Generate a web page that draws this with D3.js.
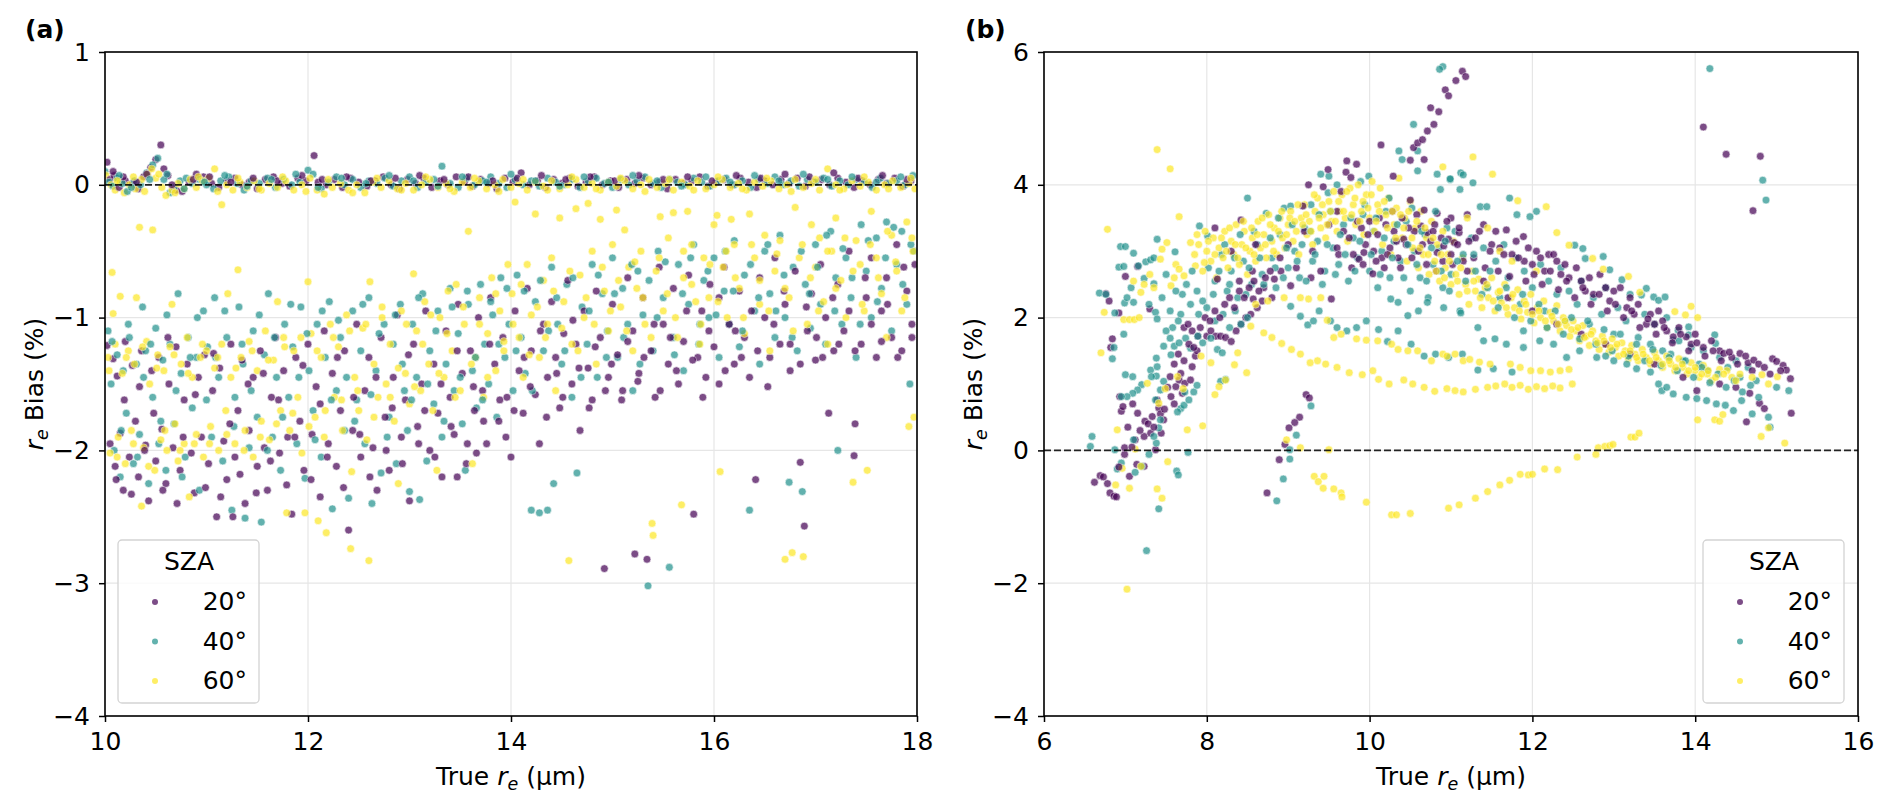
<!DOCTYPE html>
<html lang="en">
<head>
<meta charset="UTF-8">
<script src="https://d3js.org/d3.v7.min.js"></script>
<style>
  body { margin: 0; background: #fff; overflow: hidden; }
  svg { display: block; font-family: "DejaVu Sans", sans-serif; }
</style>
</head>
<body>
<svg width="1892" height="809"></svg>
<script>
  // legend categories
  const szaLabels = ['20°', '40°', '60°'];
  const szaColors = ['#440154', '#21918c', '#fde725'];

  // panel (a) tick values
  const aXTicks = [10, 12, 14, 16, 18];
  const aYTicks = [-4, -3, -2, -1, 0, 1];
  // panel (b) tick values
  const bXTicks = [6, 8, 10, 12, 14, 16];
  const bYTicks = [-4, -2, 0, 2, 4, 6];

  // ---- panel (a): [true re, bias %] ----
  // points sitting on the zero line
  const aStrip20 = [[10.02,0.17],[10.05,0.04],[10.09,0.07],[10.14,-0.02],[10.2,0.03],[10.27,0.01],[10.33,-0.03],[10.38,0.06],[10.45,0.13],[10.5,0.19],[10.55,0.3],[10.62,0.07],[10.7,-0.04],[10.76,-0.05],[10.83,0.02],[10.9,0.08],[10.97,0.06],[11.05,0.01],[11.12,-0.02],[11.2,0.03],[11.28,0.05],[11.35,0.0],[11.42,0.02],[11.5,-0.03],[11.58,0.04],[11.66,0.06],[11.74,0.01],[11.82,-0.01],[11.9,0.05],[11.98,0.03],[12.06,0.22],[12.1,0.02],[12.18,0.0],[12.26,0.04],[12.34,-0.02],[12.42,0.05],[12.5,0.02],[12.58,-0.01],[12.66,0.03],[12.74,0.06],[12.82,0.0],[12.9,-0.03],[12.98,0.04],[13.06,0.01],[13.14,0.05],[13.22,-0.02],[13.3,0.03],[13.38,0.0],[13.46,0.06],[13.54,0.02],[13.62,-0.01],[13.7,0.04],[13.78,0.01],[13.86,-0.03],[13.94,0.05],[14.02,0.02],[14.1,0.09],[14.18,0.0],[14.26,0.03],[14.34,-0.02],[14.42,0.04],[14.5,0.01],[14.58,0.05],[14.66,-0.01],[14.74,0.02],[14.82,0.06],[14.9,0.0],[14.98,0.03],[15.06,-0.02],[15.14,0.04],[15.22,0.01],[15.3,0.05],[15.38,0.0],[15.46,0.02],[15.54,-0.03],[15.62,0.04],[15.7,0.01],[15.78,0.03],[15.86,0.06],[15.94,-0.01],[16.02,0.02],[16.1,0.04],[16.18,0.0],[16.26,0.05],[16.34,0.02],[16.42,-0.02],[16.5,0.03],[16.58,0.0],[16.66,0.04],[16.74,0.01],[16.82,0.05],[16.9,-0.01],[16.98,0.02],[17.06,0.04],[17.14,0.0],[17.22,0.05],[17.3,0.02],[17.38,-0.02],[17.46,0.03],[17.54,0.0],[17.62,0.04],[17.7,0.01],[17.78,0.05],[17.86,-0.01],[17.94,0.03]];
  const aStrip40 = [[10.0,0.1],[10.04,0.02],[10.08,-0.01],[10.12,0.05],[10.17,0.01],[10.22,-0.05],[10.29,0.03],[10.35,0.0],[10.41,0.09],[10.47,0.15],[10.52,0.2],[10.58,0.04],[10.64,-0.06],[10.68,-0.02],[10.74,0.03],[10.8,0.05],[10.86,0.01],[10.93,0.04],[11.0,0.0],[11.07,-0.03],[11.14,0.03],[11.22,0.06],[11.3,0.01],[11.37,-0.04],[11.44,0.03],[11.52,0.01],[11.6,0.05],[11.68,-0.02],[11.76,0.04],[11.84,0.0],[11.92,0.02],[12.0,0.11],[12.05,0.08],[12.13,-0.03],[12.2,0.02],[12.28,0.06],[12.36,0.0],[12.44,0.04],[12.52,-0.02],[12.6,0.03],[12.68,0.01],[12.76,0.05],[12.84,-0.01],[12.92,0.03],[13.0,0.06],[13.08,-0.02],[13.16,0.02],[13.24,0.04],[13.32,0.14],[13.4,0.01],[13.48,-0.02],[13.56,0.05],[13.64,0.0],[13.72,0.03],[13.8,0.06],[13.88,0.01],[13.96,-0.02],[14.04,0.04],[14.12,0.0],[14.2,0.03],[14.28,-0.01],[14.36,0.05],[14.44,0.02],[14.52,0.0],[14.6,0.04],[14.68,-0.02],[14.76,0.03],[14.84,0.05],[14.92,0.01],[15.0,-0.02],[15.08,0.04],[15.16,0.0],[15.24,0.03],[15.32,0.06],[15.4,0.01],[15.48,-0.02],[15.56,0.04],[15.64,0.02],[15.72,0.0],[15.8,0.05],[15.88,0.02],[15.96,-0.01],[16.04,0.03],[16.12,0.05],[16.2,0.0],[16.28,0.03],[16.36,-0.02],[16.44,0.04],[16.52,0.01],[16.6,0.06],[16.68,0.0],[16.76,0.03],[16.84,-0.01],[16.92,0.04],[17.0,0.02],[17.08,0.05],[17.16,-0.01],[17.24,0.03],[17.32,0.0],[17.4,0.04],[17.48,0.02],[17.56,-0.02],[17.64,0.05],[17.72,0.01],[17.8,0.03],[17.88,0.0],[17.96,0.07]];
  const aStrip60 = [[10.01,0.07],[10.06,0.0],[10.1,-0.04],[10.15,0.02],[10.19,-0.06],[10.24,0.0],[10.3,-0.03],[10.36,0.04],[10.42,0.08],[10.46,0.12],[10.5,0.05],[10.56,-0.02],[10.6,-0.08],[10.66,-0.04],[10.72,0.01],[10.78,-0.03],[10.84,0.04],[10.9,-0.02],[10.96,0.03],[11.02,0.05],[11.08,0.12],[11.15,-0.15],[11.2,0.0],[11.26,-0.04],[11.33,0.02],[11.4,-0.02],[11.47,0.03],[11.54,-0.04],[11.62,0.01],[11.7,-0.02],[11.78,0.03],[11.86,-0.04],[11.94,0.0],[12.02,0.05],[12.09,-0.04],[12.16,-0.07],[12.24,-0.02],[12.32,0.01],[12.4,-0.04],[12.48,0.0],[12.56,-0.06],[12.64,0.02],[12.72,-0.02],[12.8,0.03],[12.88,-0.03],[12.96,0.01],[13.04,-0.04],[13.12,0.0],[13.2,0.04],[13.28,-0.02],[13.36,0.01],[13.44,-0.05],[13.52,0.02],[13.6,-0.02],[13.68,0.03],[13.76,-0.03],[13.84,0.0],[13.92,0.04],[14.0,-0.02],[14.08,0.01],[14.16,-0.04],[14.24,0.02],[14.32,-0.01],[14.4,0.03],[14.48,-0.03],[14.56,0.0],[14.64,0.04],[14.72,-0.02],[14.8,0.01],[14.88,-0.04],[14.96,0.02],[15.04,-0.01],[15.12,0.03],[15.2,-0.03],[15.28,0.0],[15.36,0.04],[15.44,-0.02],[15.52,0.01],[15.6,-0.04],[15.68,0.02],[15.76,-0.01],[15.84,0.03],[15.92,-0.03],[16.0,0.0],[16.08,0.04],[16.16,-0.02],[16.24,0.01],[16.32,-0.04],[16.4,0.02],[16.48,-0.01],[16.56,0.03],[16.64,-0.03],[16.72,0.0],[16.8,0.04],[16.88,-0.02],[16.96,0.01],[17.04,-0.04],[17.12,0.12],[17.2,0.0],[17.28,-0.03],[17.36,0.03],[17.44,-0.01],[17.52,0.02],[17.6,-0.04],[17.68,0.0],[17.76,0.03],[17.84,-0.02],[17.92,0.01],[17.98,-0.03]];
  const aStripMore20 = [[10.08,0.1],[10.18,0.06],[10.31,0.02],[10.41,0.08],[10.58,0.12],[10.66,0.0],[10.87,0.04],[11.03,0.06],[11.24,0.02],[11.46,0.05],[11.7,0.03],[11.94,0.07],[12.14,0.04],[12.38,0.06],[12.62,0.03],[12.86,0.05],[13.1,0.07],[13.34,0.04],[13.58,0.06],[13.82,0.03],[14.06,0.05],[14.3,0.07],[14.54,0.04],[14.78,0.06],[15.02,0.03],[15.26,0.07],[15.5,0.04],[15.74,0.06],[15.98,0.03],[16.22,0.07],[16.46,0.05],[16.7,0.08],[16.94,0.06],[17.18,0.09],[17.42,0.05],[17.66,0.07],[17.9,0.04]];
  const aStripMore40 = [[10.14,0.07],[10.26,-0.02],[10.44,0.04],[10.61,0.08],[10.78,-0.03],[10.98,0.02],[11.18,0.07],[11.4,-0.01],[11.64,0.04],[11.88,0.08],[12.1,-0.02],[12.33,0.05],[12.57,0.01],[12.8,0.07],[13.04,0.03],[13.28,-0.01],[13.52,0.06],[13.76,0.02],[14.0,0.08],[14.24,0.03],[14.48,-0.01],[14.72,0.06],[14.96,0.02],[15.2,0.07],[15.44,0.03],[15.68,-0.01],[15.92,0.06],[16.16,0.02],[16.4,0.07],[16.64,0.03],[16.88,0.08],[17.12,0.04],[17.36,0.06],[17.6,0.02],[17.84,0.06]];
  const aStripMore60 = [[10.12,0.03],[10.28,0.06],[10.39,-0.05],[10.53,0.08],[10.69,-0.06],[10.92,0.06],[11.11,-0.05],[11.31,0.05],[11.52,-0.03],[11.75,0.06],[11.98,-0.05],[12.2,0.04],[12.44,-0.06],[12.68,0.05],[12.92,-0.04],[13.16,0.06],[13.4,-0.03],[13.64,0.05],[13.88,-0.05],[14.12,0.04],[14.36,-0.04],[14.6,0.06],[14.84,-0.03],[15.08,0.05],[15.32,-0.05],[15.56,0.04],[15.8,-0.04],[16.04,0.06],[16.28,-0.03],[16.52,0.05],[16.76,-0.05],[17.0,0.04],[17.24,-0.04],[17.48,0.06],[17.72,-0.03],[17.94,0.05]];

  // points in the negative bias cloud
  const aCloud20 = [[10.02,-1.21],[10.05,-1.95],[10.08,-1.31],[10.1,-2.12],[10.12,-1.44],[10.15,-1.87],[10.18,-2.3],[10.2,-1.18],[10.24,-2.05],[10.27,-1.36],[10.3,-1.78],[10.33,-2.2],[10.36,-1.25],[10.4,-1.96],[10.43,-2.38],[10.46,-1.4],[10.5,-2.08],[10.53,-1.3],[10.56,-1.84],[10.6,-2.25],[10.63,-1.5],[10.67,-1.98],[10.7,-1.22],[10.74,-2.15],[10.78,-1.62],[10.81,-1.35],[10.85,-2.02],[10.88,-2.32],[10.92,-1.45],[10.95,-1.9],[10.98,-1.28],
    [11.02,-2.1],[11.06,-1.55],[11.1,-2.5],[11.13,-1.38],[11.17,-1.93],[11.2,-2.22],[11.24,-1.2],[11.26,-2.5],[11.28,-2.05],[11.31,-1.7],[11.35,-1.32],[11.38,-2.4],[11.42,-1.85],[11.46,-1.45],[11.5,-2.12],[11.53,-1.25],[11.57,-1.98],[11.6,-2.3],[11.64,-1.6],[11.68,-1.15],[11.72,-2.02],[11.76,-1.4],[11.8,-1.9],[11.84,-2.48],[11.88,-1.3],[11.92,-1.78],[11.96,-2.15],
    [12.0,-1.2],[12.04,-1.88],[12.08,-1.52],[12.12,-2.35],[12.16,-1.1],[12.2,-1.95],[12.24,-1.42],[12.28,-2.12],[12.32,-1.7],[12.36,-1.25],[12.4,-2.6],[12.44,-1.85],[12.48,-1.05],[12.52,-2.05],[12.56,-1.55],[12.6,-1.3],[12.64,-1.98],[12.68,-2.3],[12.72,-1.15],[12.76,-1.75],[12.8,-2.15],[12.84,-1.45],[12.88,-0.98],[12.92,-1.9],[12.96,-1.62],
    [13.0,-2.38],[13.04,-1.2],[13.08,-1.82],[13.12,-1.5],[13.16,-0.95],[13.2,-2.0],[13.24,-1.35],[13.28,-1.72],[13.32,-2.2],[13.36,-1.1],[13.4,-1.6],[13.44,-1.88],[13.47,-2.2],[13.48,-0.9],[13.52,-1.42],[13.56,-2.1],[13.6,-1.25],[13.64,-1.7],[13.66,-2.02],[13.68,-1.0],[13.72,-1.55],[13.76,-1.95],[13.8,-0.85],[13.84,-1.35],[13.88,-1.78],[13.92,-1.15],[13.96,-1.6],
    [14.0,-2.05],[14.04,-0.95],[14.08,-1.4],[14.12,-1.72],[14.16,-0.78],[14.2,-1.25],[14.24,-1.58],[14.28,-1.95],[14.32,-1.05],[14.36,-1.45],[14.4,-0.88],[14.44,-1.3],[14.48,-1.68],[14.52,-1.12],[14.56,-0.72],[14.6,-1.5],[14.64,-1.2],[14.68,-1.85],[14.72,-0.95],[14.76,-1.38],[14.8,-1.62],[14.84,-0.8],[14.88,-1.15],[14.92,-2.89],[14.96,-1.45],
    [15.0,-0.9],[15.05,-1.28],[15.1,-1.55],[15.15,-0.7],[15.2,-1.1],[15.22,-2.78],[15.26,-1.42],[15.3,-0.85],[15.34,-2.82],[15.38,-1.25],[15.42,-1.6],[15.46,-0.62],[15.5,-1.05],[15.55,-1.35],[15.6,-0.78],[15.65,-1.5],[15.7,-1.18],[15.75,-0.68],[15.8,-2.48],[15.84,-1.3],[15.88,-0.95],[15.92,-1.45],[15.96,-0.75],
    [16.0,-1.22],[16.05,-1.5],[16.1,-0.62],[16.15,-1.05],[16.2,-1.35],[16.25,-0.8],[16.3,-1.15],[16.35,-1.45],[16.41,-2.22],[16.45,-0.7],[16.5,-1.0],[16.55,-1.3],[16.6,-0.55],[16.65,-1.2],[16.7,-0.9],[16.75,-1.4],[16.8,-0.65],[16.85,-2.09],[16.89,-2.57],[16.92,-1.1],[16.96,-0.82],
    [17.0,-1.32],[17.05,-0.6],[17.1,-1.0],[17.13,-1.72],[17.18,-1.25],[17.22,-0.75],[17.28,-1.1],[17.33,-0.5],[17.38,-2.04],[17.39,-1.8],[17.45,-1.2],[17.5,-0.85],[17.55,-0.55],[17.6,-1.3],[17.65,-0.95],[17.7,-0.7],[17.75,-1.15],[17.8,-0.45],[17.85,-1.25],[17.9,-0.8],[17.95,-1.05],[17.98,-0.6]];
  const aCloud40 = [[10.03,-1.1],[10.06,-1.5],[10.09,-2.0],[10.12,-1.28],[10.15,-2.2],[10.18,-1.4],[10.21,-1.72],[10.24,-1.15],[10.28,-2.1],[10.31,-1.35],[10.34,-1.88],[10.37,-0.92],[10.4,-1.25],[10.43,-2.25],[10.47,-1.6],[10.5,-1.08],[10.53,-1.95],[10.57,-1.32],[10.6,-2.15],[10.64,-1.2],[10.68,-1.8],[10.72,-0.82],[10.75,-1.42],[10.79,-2.05],[10.82,-1.15],[10.86,-1.68],[10.9,-1.3],[10.93,-2.3],[10.97,-0.95],
    [11.01,-1.22],[11.05,-1.9],[11.08,-0.85],[11.12,-1.45],[11.16,-2.08],[11.2,-1.15],[11.25,-2.45],[11.28,-1.6],[11.32,-0.92],[11.36,-1.35],[11.38,-2.51],[11.42,-1.98],[11.46,-1.1],[11.5,-1.75],[11.54,-2.54],[11.57,-1.28],[11.61,-0.82],[11.65,-1.9],[11.69,-1.45],[11.73,-2.15],[11.77,-1.05],[11.81,-1.6],[11.85,-1.22],[11.89,-1.95],[11.93,-0.92],[11.97,-2.21],
    [12.01,-1.4],[12.05,-1.7],[12.09,-1.05],[12.13,-2.05],[12.17,-1.3],[12.21,-0.88],[12.24,-2.44],[12.28,-1.55],[12.32,-1.15],[12.36,-1.85],[12.4,-2.36],[12.44,-0.95],[12.48,-1.62],[12.52,-1.25],[12.56,-1.95],[12.6,-0.85],[12.63,-2.4],[12.67,-1.4],[12.72,-2.17],[12.75,-1.05],[12.8,-1.75],[12.84,-1.2],[12.87,-2.1],[12.91,-0.9],[12.95,-1.55],[12.98,-1.85],
    [13.0,-2.31],[13.03,-1.05],[13.07,-1.45],[13.1,-2.37],[13.13,-0.82],[13.17,-2.08],[13.2,-1.25],[13.24,-1.65],[13.28,-0.95],[13.32,-1.9],[13.36,-1.35],[13.4,-0.78],[13.44,-1.55],[13.48,-1.12],[13.52,-1.8],[13.55,-2.15],[13.58,-0.9],[13.62,-1.4],[13.66,-1.68],[13.7,-0.75],[13.74,-1.2],[13.78,-1.5],[13.82,-0.98],[13.86,-1.75],[13.9,-0.7],[13.94,-1.3],[13.98,-1.05],
    [14.02,-1.55],[14.06,-0.68],[14.1,-1.15],[14.14,-1.42],[14.2,-2.45],[14.24,-0.88],[14.28,-2.47],[14.32,-1.25],[14.36,-2.45],[14.4,-0.62],[14.42,-2.25],[14.46,-1.05],[14.5,-1.35],[14.55,-0.75],[14.6,-1.6],[14.65,-2.17],[14.7,-0.92],[14.75,-1.2],[14.8,-0.6],[14.85,-1.45],[14.9,-0.82],[14.95,-1.1],
    [15.0,-0.55],[15.05,-1.3],[15.1,-0.78],[15.15,-1.05],[15.2,-1.55],[15.25,-0.65],[15.3,-0.98],[15.35,-3.02],[15.4,-1.25],[15.45,-0.5],[15.5,-0.85],[15.56,-2.88],[15.6,-1.15],[15.65,-0.6],[15.7,-1.4],[15.75,-0.9],[15.8,-0.45],[15.85,-1.2],[15.9,-0.72],[15.95,-1.0],
    [16.0,-0.55],[16.05,-1.3],[16.1,-0.8],[16.15,-1.05],[16.2,-0.42],[16.25,-1.22],[16.3,-0.68],[16.35,-2.45],[16.4,-0.95],[16.45,-1.35],[16.5,-0.5],[16.55,-0.82],[16.6,-1.15],[16.65,-0.38],[16.7,-1.0],[16.74,-2.24],[16.78,-0.62],[16.82,-1.25],[16.87,-2.31],[16.9,-0.75],[16.95,-1.08],
    [17.0,-0.45],[17.05,-0.9],[17.1,-1.2],[17.15,-0.35],[17.2,-0.7],[17.22,-2.0],[17.26,-1.05],[17.3,-0.55],[17.35,-0.85],[17.4,-1.3],[17.45,-0.3],[17.5,-0.65],[17.55,-1.0],[17.6,-0.4],[17.65,-0.78],[17.7,-0.28],[17.75,-1.1],[17.8,-0.6],[17.85,-0.35],[17.9,-0.9],[17.93,-1.5],[17.97,-0.5]];
  const aCloud60 = [[10.03,-1.3],[10.05,-2.02],[10.07,-0.66],[10.08,-0.97],[10.1,-1.2],[10.13,-1.9],[10.15,-0.84],[10.17,-1.42],[10.2,-2.1],[10.23,-1.25],[10.26,-1.85],[10.29,-1.35],[10.31,-0.85],[10.34,-0.32],[10.36,-2.42],[10.38,-1.98],[10.41,-1.18],[10.44,-1.5],[10.47,-0.34],[10.49,-2.15],[10.52,-1.28],[10.55,-1.92],[10.58,-1.4],[10.61,-2.0],[10.64,-1.22],[10.66,-0.9],[10.69,-1.8],[10.72,-2.08],[10.75,-1.35],[10.78,-1.95],[10.81,-1.15],[10.83,-2.35],[10.86,-1.45],[10.9,-1.88],[10.94,-1.3],[10.97,-2.05],
    [11.0,-1.25],[11.04,-1.82],[11.08,-1.38],[11.12,-2.0],[11.15,-1.2],[11.19,-1.7],[11.21,-0.82],[11.24,-1.45],[11.28,-1.95],[11.31,-0.64],[11.34,-1.3],[11.38,-1.85],[11.42,-1.18],[11.46,-2.05],[11.5,-1.4],[11.54,-1.78],[11.58,-1.1],[11.62,-1.92],[11.66,-1.32],[11.7,-0.88],[11.73,-1.7],[11.76,-1.15],[11.79,-2.47],[11.82,-1.85],[11.86,-1.25],[11.9,-1.6],[11.94,-2.02],[11.97,-2.47],
    [12.0,-0.73],[12.03,-1.12],[12.07,-1.75],[12.1,-2.53],[12.13,-1.3],[12.16,-1.9],[12.18,-2.62],[12.22,-1.05],[12.26,-1.6],[12.3,-1.22],[12.34,-1.85],[12.38,-0.98],[12.42,-2.74],[12.43,-2.16],[12.46,-1.45],[12.5,-1.7],[12.54,-1.08],[12.58,-1.92],[12.6,-2.83],[12.61,-0.73],[12.65,-1.35],[12.69,-1.6],[12.73,-0.92],[12.77,-1.5],[12.81,-1.2],[12.85,-1.78],[12.89,-2.25],[12.92,-0.95],[12.96,-1.42],
    [13.0,-1.65],[13.04,-0.67],[13.07,-1.1],[13.11,-1.55],[13.15,-0.88],[13.19,-1.35],[13.23,-1.7],[13.27,-2.15],[13.3,-1.0],[13.34,-1.45],[13.38,-0.8],[13.42,-1.25],[13.46,-0.75],[13.5,-1.55],[13.54,-1.05],[13.58,-0.35],[13.62,-2.1],[13.65,-1.3],[13.69,-0.85],[13.73,-1.6],[13.77,-1.12],[13.81,-0.7],[13.85,-1.4],[13.89,-0.95],[13.93,-1.25],[13.97,-0.6],
    [14.01,-0.82],[14.04,-0.13],[14.08,-1.15],[14.12,-1.45],[14.16,-0.6],[14.2,-0.98],[14.24,-0.22],[14.28,-1.3],[14.32,-0.72],[14.36,-1.05],[14.4,-0.55],[14.44,-1.55],[14.48,-0.25],[14.52,-0.88],[14.57,-2.83],[14.6,-1.2],[14.64,-0.18],[14.68,-0.68],[14.72,-1.0],[14.76,-0.14],[14.8,-0.5],[14.84,-1.35],[14.88,-0.26],[14.92,-0.8],[14.96,-1.1],
    [15.0,-0.45],[15.04,-0.19],[15.08,-0.92],[15.12,-0.34],[15.16,-0.62],[15.2,-1.25],[15.24,-0.78],[15.28,-0.5],[15.32,-1.05],[15.39,-2.55],[15.4,-2.64],[15.43,-0.65],[15.47,-0.24],[15.5,-0.95],[15.55,-0.4],[15.6,-0.21],[15.64,-1.15],[15.68,-2.41],[15.7,-0.7],[15.74,-0.2],[15.78,-0.45],[15.82,-0.88],[15.86,-1.2],[15.9,-0.55],[15.95,-0.85],
    [16.0,-0.3],[16.03,-0.23],[16.06,-2.16],[16.09,-0.62],[16.13,-1.0],[16.17,-0.26],[16.2,-0.45],[16.25,-0.78],[16.3,-1.12],[16.35,-0.22],[16.4,-0.55],[16.45,-0.9],[16.5,-0.38],[16.55,-1.25],[16.6,-0.65],[16.65,-0.42],[16.7,-2.82],[16.74,-0.85],[16.77,-2.77],[16.8,-0.17],[16.84,-0.55],[16.88,-2.8],[16.92,-1.05],[16.96,-0.3],
    [17.0,-0.62],[17.04,-0.4],[17.08,-0.88],[17.12,-1.2],[17.16,-0.5],[17.2,-0.25],[17.25,-0.72],[17.3,-1.0],[17.37,-2.24],[17.4,-0.42],[17.44,-0.6],[17.48,-0.95],[17.51,-2.15],[17.55,-0.2],[17.6,-0.55],[17.65,-0.82],[17.7,-1.15],[17.75,-0.38],[17.8,-0.65],[17.85,-0.95],[17.9,-0.28],[17.92,-1.82],[17.96,-0.5],[17.97,-1.75]];
  const aFill20 = [[10.11,-2.22],[10.19,-1.62],[10.26,-2.33],[10.34,-1.52],[10.39,-2.0],[10.48,-1.72],[10.57,-2.3],[10.62,-1.15],[10.71,-2.4],[10.77,-1.9],[10.89,-1.58],[10.99,-2.28],[11.07,-1.27],[11.14,-2.35],[11.23,-1.8],[11.33,-2.18],[11.41,-1.5],[11.49,-2.32],[11.56,-1.42],[11.63,-2.08],[11.71,-1.62],[11.79,-2.26],[11.87,-1.9],[11.95,-1.36],
    [12.03,-2.22],[12.12,-1.65],[12.19,-2.05],[12.29,-1.3],[12.35,-2.28],[12.45,-1.6],[12.51,-1.88],[12.61,-2.2],[12.67,-1.45],[12.77,-2.0],[12.83,-1.68],[12.93,-2.1],[12.99,-1.28],[13.09,-1.95],[13.15,-1.7],[13.25,-2.05],[13.31,-1.5],[13.41,-1.82],[13.47,-1.25],[13.57,-1.95],[13.63,-1.52],[13.73,-1.78],[13.79,-1.2],[13.89,-1.62],[13.95,-1.9],
    [14.03,-1.7],[14.13,-1.3],[14.19,-1.52],[14.29,-1.1],[14.35,-1.75],[14.45,-1.42],[14.51,-1.6],[14.61,-1.02],[14.67,-1.38],[14.77,-1.68],[14.83,-1.22],[14.93,-1.55],[14.99,-1.35],[15.09,-1.62],[15.15,-1.18],[15.25,-1.48],[15.31,-1.3],[15.41,-1.05],[15.47,-1.55],[15.57,-1.15],[15.63,-1.4],[15.73,-0.95],[15.79,-1.32],[15.89,-1.6],[15.95,-1.1],[16.05,-0.85],[16.11,-1.4],[16.21,-1.1],[16.27,-1.3],[16.37,-0.95],[16.43,-1.25],[16.53,-1.52],[16.59,-1.05],[16.69,-0.8],[16.75,-1.2],[16.85,-1.35],[16.91,-0.92],[17.01,-1.15],[17.07,-1.3],[17.17,-0.85],[17.23,-1.2],[17.33,-0.95],[17.39,-1.25],[17.49,-0.7],[17.55,-1.05],[17.65,-1.18],[17.71,-0.9],[17.81,-1.3],[17.87,-0.62],[17.95,-1.15]];
  const aFill40 = [[10.07,-1.18],[10.16,-1.85],[10.23,-1.05],[10.32,-2.05],[10.38,-1.45],[10.45,-1.2],[10.55,-1.78],[10.61,-0.98],[10.7,-1.55],[10.76,-2.2],[10.84,-1.3],[10.91,-1.0],[11.0,-1.62],[11.09,-1.3],[11.18,-0.95],[11.27,-1.82],[11.35,-1.2],[11.44,-1.55],[11.52,-0.98],[11.6,-2.0],[11.67,-1.15],[11.75,-1.75],[11.83,-0.9],[11.91,-1.45],[11.99,-1.12],
    [12.07,-1.92],[12.14,-0.95],[12.23,-1.62],[12.3,-1.02],[12.38,-1.45],[12.46,-1.78],[12.54,-0.9],[12.62,-1.58],[12.7,-1.12],[12.78,-1.9],[12.86,-0.98],[12.93,-1.35],[13.02,-1.62],[13.09,-0.85],[13.18,-1.5],[13.26,-1.1],[13.34,-1.78],[13.42,-0.92],[13.5,-1.45],[13.57,-0.8],[13.65,-1.3],[13.72,-1.62],[13.8,-0.88],[13.88,-1.2],[13.96,-0.78],
    [14.05,-1.25],[14.13,-0.8],[14.21,-1.55],[14.29,-0.72],[14.37,-1.1],[14.45,-0.85],[14.53,-1.25],[14.61,-0.7],[14.69,-1.45],[14.77,-0.95],[14.86,-0.68],[14.94,-1.3],[15.02,-0.82],[15.11,-1.15],[15.19,-0.6],[15.27,-1.35],[15.36,-0.72],[15.44,-1.0],[15.52,-0.58],[15.61,-1.28],[15.69,-0.82],[15.77,-0.55],[15.86,-1.05],[15.94,-0.65],[16.02,-0.98],[16.11,-0.5],[16.19,-0.8],[16.28,-1.1],[16.36,-0.6],[16.44,-0.85],[16.53,-0.45],[16.61,-0.95],[16.69,-0.68],[16.77,-1.15],[16.86,-0.5],[16.94,-0.82],[17.02,-0.62],[17.11,-0.38],[17.19,-0.95],[17.27,-0.48],[17.36,-0.7],[17.44,-1.05],[17.52,-0.42],[17.61,-0.88],[17.69,-0.55],[17.77,-0.32],[17.86,-0.75],[17.94,-0.45]];
  const aFill60 = [[10.04,-1.4],[10.12,-2.05],[10.21,-1.3],[10.28,-1.95],[10.37,-1.22],[10.43,-2.12],[10.51,-1.38],[10.59,-1.85],[10.68,-1.28],[10.74,-2.0],[10.82,-1.42],[10.88,-1.95],[10.96,-1.2],[11.03,-1.95],[11.11,-1.3],[11.2,-1.88],[11.29,-1.38],[11.37,-2.0],[11.45,-1.25],[11.53,-1.9],[11.61,-1.32],[11.69,-1.8],[11.77,-1.22],[11.85,-1.72],[11.93,-1.15],
    [12.01,-1.82],[12.09,-1.25],[12.17,-1.7],[12.25,-1.15],[12.33,-1.62],[12.41,-1.1],[12.49,-1.55],[12.57,-1.05],[12.65,-1.75],[12.73,-1.0],[12.81,-1.6],[12.89,-1.38],[12.97,-1.05],[13.05,-1.52],[13.13,-1.2],[13.21,-0.98],[13.29,-1.42],[13.37,-1.12],[13.45,-1.6],[13.53,-0.92],[13.61,-1.35],[13.69,-1.05],[13.77,-1.45],[13.85,-0.82],[13.93,-1.18],
    [14.02,-1.05],[14.1,-0.75],[14.18,-1.28],[14.26,-0.92],[14.34,-1.15],[14.42,-0.8],[14.5,-1.08],[14.58,-0.65],[14.66,-1.25],[14.74,-0.85],[14.82,-1.05],[14.9,-0.62],[14.98,-0.95],[15.06,-0.72],[15.14,-1.1],[15.22,-0.58],[15.3,-0.85],[15.38,-1.15],[15.46,-0.55],[15.54,-0.82],[15.62,-1.0],[15.7,-0.5],[15.78,-0.75],[15.87,-1.05],[15.96,-0.6],[16.04,-0.88],[16.12,-0.5],[16.21,-0.7],[16.29,-1.0],[16.37,-0.45],[16.45,-0.72],[16.54,-0.95],[16.62,-0.52],[16.7,-0.78],[16.78,-1.1],[16.87,-0.45],[16.95,-0.7],[17.03,-0.95],[17.12,-0.5],[17.2,-0.78],[17.29,-0.4],[17.37,-0.65],[17.46,-0.9],[17.54,-0.45],[17.62,-0.7],[17.71,-0.35],[17.79,-0.58],[17.88,-0.85],[17.95,-0.4]];

  // ---- panel (b): [true re, bias %] ----
  const b20 = [[6.62,-0.48],[6.69,-0.38],[6.73,-0.4],[6.81,-0.64],[6.86,-0.69],[6.89,-0.7],[6.99,-0.06],[7.05,-0.39],[7.14,-0.21],[7.23,-0.24],[6.99,0.04],[7.12,0.16],[7.23,0.21],[7.31,0.26],[7.37,0.01],[7.44,0.26],[7.24,0.44],[7.28,0.4],[7.33,0.51],[7.41,0.64],[7.47,0.46],[7.39,0.76],[7.43,0.55],[6.95,0.59],[6.97,0.66],[6.93,0.81],[7.09,0.7],[7.15,0.56],[7.03,0.35],[7.55,1.11],[7.56,0.81],[7.62,0.96],[7.66,1.06],[7.68,1.16],[7.7,0.86],[7.73,1.01],[7.8,1.06],[7.82,1.26],[7.86,1.42],[7.88,1.5],[7.72,1.85],[7.77,1.9],[7.82,1.8],[7.89,1.72],[8.0,1.72],[8.05,1.8],[8.11,1.72],[8.13,2.58],[8.17,1.72],[8.23,1.7],[8.3,1.64],[8.36,1.8],[8.42,1.9],[8.48,2.0],[8.54,2.05],[8.57,2.28],[8.62,2.15],[8.68,2.25],
    [6.76,2.36],[6.8,2.25],[7.15,2.77],[7.3,2.13],[6.84,1.68],[6.82,1.55],[6.92,2.07],[7.0,2.62],
    [8.1,3.35],[8.42,3.47],[8.56,2.7],[8.83,2.58],[8.91,2.7],[9.03,2.48],[9.18,3.68],[9.28,2.6],[9.43,3.97],[9.49,4.23],[9.53,2.28],[9.65,3.9],[9.72,4.36],[9.71,4.19],[9.77,4.11],[9.84,4.31],[9.87,2.88],[9.93,2.98],[10.04,2.66],[10.14,4.6],[10.18,2.75],[10.29,4.13],[10.42,3.18],[10.5,4.37],[10.54,4.56],[10.59,4.63],[10.65,4.68],[10.67,4.38],[10.71,4.81],[10.79,4.91],[10.75,5.16],[10.55,3.3],[10.63,3.38],[10.71,3.28],[10.83,2.98],[10.91,3.08],[10.97,3.18],[11.04,3.13],[11.1,3.28],[10.5,3.77],[10.67,3.62],[10.83,3.57],[10.93,5.43],[10.97,5.34],[11.06,5.57],[11.14,5.71],[11.18,5.63],[10.85,5.1],[14.1,4.87],[14.38,4.46],[14.8,4.43],[14.71,3.61],
    [9.75,3.2],[9.8,2.95],[9.9,3.35],[9.95,3.1],[10.0,3.45],[10.05,3.0],[10.1,3.25],[10.15,2.9],[10.2,3.4],[10.25,3.05],[10.3,3.3],[10.35,2.9],[10.4,3.5],[10.45,3.1],[10.6,3.0],[10.75,3.15],[10.8,3.4],[10.9,2.85],[11.0,2.95],[8.7,2.45],[8.8,2.3],[8.9,2.9],[9.0,3.1],[9.1,2.75],[9.2,3.3],[9.3,3.0],[9.4,2.7],[9.5,3.4],[9.6,3.05],[8.6,3.1],[8.4,2.55],[8.3,3.0],[9.25,4.0],[9.6,3.6],
    [11.0,3.5],[11.1,3.35],[11.2,3.55],[11.3,3.2],[11.4,3.4],[11.5,3.1],[11.55,3.3],[11.6,3.05],[11.68,3.32],[11.75,2.95],[11.8,3.15],[11.89,3.22],[11.9,2.85],[11.95,3.05],[12.0,2.8],[12.05,3.0],[12.1,2.9],[12.15,2.7],[12.2,2.95],[12.26,2.95],[12.3,2.85],[12.35,2.65],[12.4,2.8],[12.45,2.6],[12.54,2.75],[12.6,2.55],[12.65,2.4],[12.7,2.6],[12.75,2.35],[12.83,2.65],[12.9,2.45],[12.95,2.25],[13.0,2.4],[13.08,2.45],[13.16,2.15],[13.2,2.3],[13.25,2.05],[13.3,2.2],[13.4,1.9],[13.45,2.05],[13.5,1.9],[13.55,2.1],[13.6,1.95],[13.65,1.8],[13.73,1.71],[13.8,1.85],[13.89,1.71],[13.95,1.6],[14.0,1.75],[14.1,1.55],[14.2,1.65],[14.3,1.5],[14.35,1.46],[14.45,1.4],[14.55,1.46],[14.65,1.32],[14.72,1.36],[14.78,1.3],[14.85,1.25],[14.95,1.38],[15.0,1.34],[15.08,1.28],[15.12,1.21],[15.17,1.08],[15.18,0.56],[14.67,0.86],[14.79,0.71],[14.85,0.63],[14.63,0.43],[14.3,1.0],[14.02,0.9],[14.5,0.95],[13.85,1.1],[13.5,1.3],[13.2,1.45],[12.9,1.6],[12.6,1.75],[12.3,1.9],[12.0,2.1],[11.7,2.3],[11.4,2.55],[11.2,2.7],
    [9.22,0.84],[9.26,0.79],[9.14,0.5],[9.08,0.42],[9.01,0.34],[8.96,0.09],[8.89,-0.14],[8.74,-0.64]];
  const b40 = [[7.91,3.38],[8.01,3.23],[8.02,2.75],[8.1,2.55],[8.18,2.95],[8.25,2.4],[8.3,2.7],[8.38,2.3],[8.45,2.85],[8.5,3.8],[8.55,2.5],[8.62,3.1],[8.68,2.65],[8.73,3.57],[8.8,2.9],[8.85,2.45],[8.9,3.25],[8.95,3.65],[9.0,2.75],[9.03,3.68],[9.08,3.0],[9.14,2.6],[9.2,3.35],[9.28,3.7],[9.3,2.85],[9.36,3.15],[9.4,4.16],[9.45,2.7],[9.5,4.13],[9.49,3.88],[9.55,3.05],[9.6,4.0],[9.62,2.8],[9.68,3.4],[9.74,2.55],[9.8,3.2],[9.89,4.05],[9.85,2.9],[9.92,3.55],[9.99,4.13],[10.0,2.7],[10.05,3.3],[10.1,2.45],[10.15,3.0],[10.2,3.6],[10.25,2.6],[10.3,3.15],[10.36,4.51],[10.4,4.38],[10.38,2.85],[10.45,3.45],[10.5,2.4],[10.54,4.91],[10.55,3.0],[10.59,4.51],[10.59,4.21],[10.62,2.6],[10.68,3.25],[10.72,2.3],[10.78,2.8],[10.83,4.16],[10.85,3.05],[10.9,2.45],[10.95,3.35],[10.99,4.08],[11.0,2.65],[11.12,4.18],[10.9,5.78],[10.86,5.74],[14.18,5.75],[14.83,4.07],[14.87,3.77],
    [10.99,4.09],[11.15,4.15],[11.27,4.03],[11.11,3.93],[10.87,3.93],[11.72,3.8],[11.81,3.55],[12.05,3.6],[11.97,3.52],[11.36,3.67],[11.44,3.67],[12.52,3.09],[12.62,3.04],[12.65,2.89],[12.87,2.92],[12.95,2.72],[13.1,2.57],[13.4,2.44],[13.34,2.34],[13.49,2.31],[13.55,2.26],[13.63,2.31],[13.79,1.81],[13.92,1.86],[13.92,1.74],[14.24,1.74],[14.25,1.61],[13.73,1.66],[11.05,3.3],[11.15,2.95],[11.25,3.2],[11.3,2.7],[11.4,3.05],[11.45,2.45],[11.55,2.85],[11.6,2.3],[11.65,3.1],[11.7,2.6],[11.8,2.9],[11.85,2.2],[11.9,2.7],[12.0,2.45],[12.1,2.8],[12.15,2.1],[12.2,2.55],[12.3,2.35],[12.35,2.75],[12.4,1.95],[12.45,2.4],[12.55,2.2],[12.6,2.55],[12.7,1.9],[12.75,2.3],[12.85,2.05],[12.9,2.45],[13.0,1.75],[13.05,2.15],[13.15,1.95],[13.2,2.35],[13.3,1.7],[13.38,2.05],[13.45,1.6],[13.5,1.9],[13.6,1.5],[13.65,2.0],[13.7,1.45],[13.8,1.65],[13.85,1.35],[13.95,1.55],[14.05,1.3],[14.1,1.5],[14.15,1.2],[14.3,1.4],[14.4,1.25],[14.5,1.35],[14.55,1.1],[14.65,1.25],[14.75,1.05],
    [11.11,2.1],[11.33,1.85],[11.4,1.65],[11.54,1.68],[11.68,1.6],[11.89,1.55],[11.89,1.8],[12.09,1.65],[12.26,1.6],[12.42,1.4],[12.58,1.5],[12.79,1.4],[12.9,1.42],[13.0,1.35],[13.16,1.3],[13.28,1.23],[13.45,1.18],[13.59,0.9],[13.73,0.85],[13.89,0.8],[14.02,0.78],[14.14,0.75],[14.26,0.7],[14.37,0.68],[14.47,0.6],[14.57,0.75],[14.7,0.55],[14.9,0.5],[15.15,0.9],[15.0,0.95],[14.92,0.35],[11.33,1.21],[11.52,1.23],[11.75,1.18],[13.55,1.0],[13.65,0.95],
    [9.03,2.17],[9.15,2.02],[9.24,1.89],[9.31,1.95],[9.38,2.1],[9.52,1.95],[9.6,1.85],[9.72,1.8],[9.84,1.85],[9.96,1.95],[10.11,1.82],[10.22,1.64],[10.35,1.8],[10.51,1.6],[10.67,1.42],[10.81,1.45],[10.97,1.4],[11.14,1.45],[10.26,2.28],[10.35,2.23],[10.47,2.03],[10.6,2.1],[10.71,2.23],[10.91,2.15],[11.12,2.07],
    [6.57,0.06],[6.59,0.21],[6.87,0.01],[6.9,-0.28],[6.95,-0.19],[7.12,-0.33],[7.2,-0.24],[7.29,-0.06],[7.41,-0.88],[7.26,-1.51],[7.63,-0.31],[7.65,-0.37],[7.77,-0.03],[7.1,0.16],[7.38,0.11],[7.35,0.21],[7.41,0.34],[7.43,0.46],[7.37,0.76],[7.43,0.91],[7.47,1.04],[7.38,1.12],[7.31,1.21],[7.2,0.99],[7.15,0.91],[7.09,0.86],[7.02,0.81],[6.95,0.81],[7.0,1.14],[7.09,1.11],[7.32,1.11],[7.39,1.26],[7.38,1.39],[7.47,1.57],[7.55,1.69],[7.6,1.57],[7.56,1.44],[7.66,1.62],[7.74,1.69],[7.8,1.54],[7.89,1.72],[7.95,1.62],[8.05,1.69],[8.13,1.52],[8.19,1.47],[8.23,1.07],[8.17,1.04],[7.68,0.63],[7.72,0.68],[7.78,0.76],[7.84,0.88],[7.88,0.98],[7.64,0.58],[7.73,0.88],[6.68,2.37],[6.76,2.35],[6.87,2.07],[6.99,2.22],[6.98,1.75],[6.86,1.55],[6.84,1.38],[6.92,2.76],[6.98,2.77],[6.94,3.07],[7.0,3.07],[7.1,2.97],[7.16,2.78],[7.25,2.84],[7.31,2.87],[7.35,2.9],[7.39,3.18],[7.61,2.99],[7.23,2.59],[7.35,2.51],[7.29,2.2],[7.37,2.08],[7.39,1.98],[7.07,2.45],[7.02,2.3],[7.1,2.23],[7.7,2.35],[7.8,2.2],[7.9,2.05],[8.0,2.15],[8.1,1.95],[8.2,2.05],[8.28,1.85],[8.35,2.1],[8.42,1.9],[8.5,2.0],
    [9.28,0.67],[9.1,0.23],[9.02,0.01],[9.02,-0.13],[8.94,-0.43],[8.86,-0.76]];
  const b60 = [[7.85,2.95],[7.9,3.1],[7.95,2.7],[8.0,3.0],[8.05,2.85],[8.08,3.2],[8.12,2.6],[8.15,3.05],[8.2,2.9],[8.22,3.3],[8.26,2.75],[8.3,3.15],[8.33,2.95],[8.36,3.4],[8.4,2.8],[8.43,3.1],[8.46,3.3],[8.5,2.65],[8.53,3.0],[8.56,3.2],[8.6,2.85],[8.63,3.45],[8.66,3.05],[8.7,3.25],[8.73,2.9],[8.76,3.55],[8.8,3.15],[8.83,3.35],[8.86,2.95],[8.9,3.5],[8.93,3.2],[8.96,3.05],[9.0,3.4],[9.03,3.6],[9.06,3.15],[9.1,3.3],[9.13,2.95],[9.16,3.5],[9.2,3.7],[9.23,3.25],[9.26,3.45],[9.3,3.1],[9.33,3.6],[9.36,3.8],[9.4,3.35],[9.43,3.55],[9.46,3.2],[9.5,3.75],[9.53,3.45],[9.56,3.9],[9.6,3.3],[9.63,3.6],[9.66,3.85],[9.7,3.5],[9.73,3.15],[9.76,3.95],[9.8,3.7],[9.83,3.4],[9.86,4.0],[9.9,3.6],[9.93,3.25],[9.96,3.85],[10.0,3.5],[10.03,4.05],[10.06,3.3],[10.1,3.7],[10.13,3.95],[10.16,3.1],[10.2,3.55],[10.23,3.8],[10.26,2.95],[10.3,3.4],[10.33,3.65],[10.36,4.1],[10.4,3.2],[10.43,3.5],[10.46,2.85],[10.5,3.75],[10.53,3.05],[10.56,3.35],[10.6,2.75],[10.63,3.6],[10.66,2.95],[10.7,3.2],[10.73,2.65],[10.76,3.45],[10.8,2.85],[10.83,3.1],[10.86,2.55],[10.9,3.3],[10.93,2.75],[10.96,2.95],[11.0,2.5],[11.03,3.15],
    [11.06,2.65],[11.1,2.35],[11.14,2.9],[11.18,2.5],[11.22,2.2],[11.26,2.7],[11.3,2.4],[11.34,2.58],[11.38,2.15],[11.42,2.45],[11.46,2.3],[11.5,2.6],[11.54,2.1],[11.58,2.38],[11.62,2.22],[11.66,2.5],[11.7,2.05],[11.74,2.3],[11.78,2.15],[11.82,2.42],[11.86,1.98],[11.9,2.25],[11.94,2.08],[11.98,2.35],[12.02,1.92],[12.06,2.15],[12.1,2.0],[12.14,2.25],[12.18,1.85],[12.22,2.08],[12.26,1.95],[12.3,2.18],[12.34,1.8],[12.38,2.0],[12.42,1.88],[12.46,1.72],[12.5,1.95],[12.54,1.8],[12.58,1.65],[12.62,1.88],[12.66,1.72],[12.7,1.58],[12.74,1.8],[12.78,1.65],[12.82,1.52],[12.86,1.72],[12.9,1.6],[12.94,1.48],[12.98,1.68],[13.02,1.55],[13.06,1.42],[13.1,1.62],[13.14,1.5],[13.18,1.38],[13.22,1.58],[13.26,1.45],[13.3,1.35],[13.35,1.52],[13.4,1.4],[13.45,1.3],[13.5,1.48],[13.55,1.35],[13.6,1.25],[13.65,1.42],[13.7,1.3],[13.75,1.2],[13.8,1.38],[13.85,1.25],[13.9,1.15],[13.95,1.32],[14.0,1.2],[14.05,1.1],[14.1,1.28],[14.15,1.15],[14.2,1.05],[14.3,1.22],[14.39,1.2],[14.45,1.1],[14.55,1.15],[14.82,1.14],[15.01,1.11],
    [11.27,4.42],[10.9,4.27],[11.51,4.16],[11.82,3.76],[12.17,3.67],[12.3,3.28],[12.45,3.09],[12.74,2.89],[12.87,2.73],[13.18,2.62],[13.32,2.38],[13.75,2.09],[13.95,2.17],[14.03,2.0],[13.88,2.04],[11.2,3.5],[11.45,3.35],[11.6,3.0],[11.75,2.85],[12.05,2.7],
    [8.54,1.87],[8.7,1.77],[8.8,1.7],[8.92,1.61],[9.04,1.52],[9.15,1.45],[9.27,1.32],[9.36,1.35],[9.46,1.3],[9.6,1.25],[9.75,1.17],[9.91,1.14],[10.04,1.2],[10.11,1.07],[10.24,1.0],[10.42,1.06],[10.53,1.0],[10.67,0.95],[10.8,0.89],[10.95,0.93],[11.05,0.9],[11.15,0.88],[11.3,0.92],[11.45,0.95],[11.55,0.97],[11.66,1.0],[11.75,0.95],[11.85,0.98],[11.95,0.92],[12.05,0.96],[12.15,0.93],[12.25,0.97],[12.34,0.94],[12.49,1.0],
    [8.6,2.2],[8.75,2.25],[8.95,2.3],[9.15,2.3],[9.25,2.28],[9.4,2.3],[9.48,1.96],[9.56,1.7],[9.65,1.75],[9.84,1.68],[9.96,1.66],[10.1,1.65],[10.27,1.6],[10.35,1.52],[10.47,1.5],[10.59,1.5],[10.76,1.35],[10.9,1.45],[10.95,1.42],[11.05,1.45],[11.15,1.35],[11.23,1.37],[11.35,1.33],[11.48,1.3],[11.73,1.3],[11.85,1.25],[11.98,1.2],[12.1,1.2],[12.22,1.18],[12.34,1.2],[12.45,1.22],
    [9.32,-0.39],[9.37,-0.47],[9.44,-0.39],[9.43,-0.57],[9.56,-0.58],[9.65,-0.64],[9.66,-0.7],[9.96,-0.78],[10.27,-0.97],[10.33,-0.97],[10.5,-0.95],[10.97,-0.87],[11.1,-0.82],[11.3,-0.72],[11.45,-0.62],[11.6,-0.52],[11.72,-0.45],[11.85,-0.36],[11.95,-0.37],[12.0,-0.36],[12.15,-0.28],[12.31,-0.29],[12.55,-0.1],[12.78,-0.06],[12.81,0.04],[12.89,0.06],[12.95,0.07],[12.99,0.09],[13.21,0.2],[13.26,0.2],[13.31,0.26],
    [14.03,0.46],[14.24,0.46],[14.3,0.44],[14.34,0.54],[14.81,0.21],[14.9,0.34],[15.1,0.11],
    [6.74,2.08],[6.78,3.33],[6.7,1.47],[6.9,0.31],[6.88,-0.52],[7.05,-0.57],[6.96,-0.27],[7.12,0.02],[7.19,-0.24],[7.39,-0.58],[7.45,-0.72],[7.52,-0.17],[7.02,-2.09],[7.39,4.53],[7.55,4.24],[7.66,3.52],[6.98,1.97],[7.05,1.97],[7.11,1.97],[7.17,2.0],[7.76,0.31],[7.95,0.37],[8.1,0.84],[8.15,0.96],[8.23,1.06],[8.34,1.29],[8.49,1.17],[8.38,1.47],[8.05,1.32],[7.93,1.42],[7.27,1.01],[7.41,0.71],[7.49,0.93],[7.71,0.93],[7.64,1.11],[7.45,3.03],[7.51,3.13],[7.62,2.8],[7.66,2.73],[7.72,2.63],[7.56,2.48],[7.35,2.45],[7.23,2.5],[7.19,2.38],[7.1,2.55],[7.8,3.13],[7.86,2.78],[7.97,2.83],[7.43,2.88],[7.3,2.65],[7.6,2.6],[8.98,0.16],[9.15,0.04],[9.5,0.01]];
  const bFill20 = [[9.62,2.95],[9.68,3.3],[9.78,2.75],[9.85,3.45],[9.92,2.8],[9.98,3.25],[10.08,2.85],[10.12,3.5],[10.22,2.95],[10.28,3.6],[10.33,3.15],[10.38,2.75],[10.48,3.35],[10.52,2.9],[10.58,3.55],[10.65,3.1],[10.7,2.8],[10.78,3.3],[10.82,2.7],[10.88,3.2],[10.95,3.45],[11.02,2.8],[11.08,3.1],[11.15,2.85],[11.22,3.15],[11.28,2.9],[11.35,3.3],[11.42,2.75],[11.48,3.0],[11.58,2.7],[11.65,2.95],[11.72,2.62],[11.83,2.9],[11.92,2.55],[12.02,2.65],[12.12,2.5],[12.22,2.7],[12.32,2.42],[12.42,2.55],[12.52,2.3],[12.62,2.45],[12.72,2.2],[12.82,2.35],[12.92,2.1],[13.02,2.2],[13.12,2.0],[13.22,2.1],[13.32,1.85],[13.42,1.98],[13.52,1.75],[13.62,1.85],[13.72,1.62],[13.82,1.75],[13.92,1.5],[14.02,1.62],[14.12,1.42],[14.22,1.5],[14.32,1.35],[14.42,1.48],[14.52,1.3],[14.62,1.42],[14.7,1.2],[14.92,1.15],[15.05,1.2],
    [7.6,1.3],[7.65,1.45],[7.72,1.35],[7.78,1.6],[7.84,1.55],[7.92,1.85],[7.98,2.0],[8.04,1.95],[8.1,2.1],[8.16,2.0],[8.22,2.2],[8.28,2.3],[8.34,2.15],[8.4,2.4],[8.46,2.3],[8.52,2.45],[8.58,2.55],[8.64,2.4],[8.72,2.6],[8.78,2.7],[7.52,0.95],[7.6,0.7],[7.48,0.62],[7.35,0.35],[7.18,0.3],[7.08,0.05],[6.92,-0.25],[6.78,-0.5]];
  const bFill40 = [[8.08,2.35],[8.15,2.7],[8.22,3.1],[8.28,2.5],[8.34,2.9],[8.41,3.25],[8.48,2.35],[8.52,2.75],[8.58,3.3],[8.65,2.9],[8.7,2.5],[8.78,3.2],[8.84,2.75],[8.88,3.5],[8.94,2.6],[8.98,3.05],[9.05,3.4],[9.11,2.85],[9.17,3.1],[9.22,2.55],[9.27,3.3],[9.33,2.95],[9.38,3.55],[9.42,2.5],[9.48,3.1],[9.52,3.6],[9.58,2.65],[9.64,3.25],[9.7,2.95],[9.77,3.5],[9.82,2.7],[9.88,3.15],[9.94,3.7],[10.02,2.95],[10.08,3.5],[10.13,2.65],[10.18,3.2],[10.24,3.8],[10.28,2.9],[10.34,3.4],[10.42,2.6],[10.47,3.1],[10.52,3.65],[10.58,2.8],[10.64,3.3],[10.7,2.55],[10.76,3.05],[10.81,3.6],[10.88,2.7],[10.93,3.15],[10.98,2.4],[11.08,2.85],[11.18,2.55],[11.28,2.95],[11.38,2.35],[11.48,2.7],[11.58,2.15],[11.68,2.45],[11.78,2.0],[11.88,2.35],[11.98,1.95],[12.08,2.2],[12.18,1.85],[12.28,2.1],[12.38,1.75],[12.48,2.0],[12.58,1.68],[12.68,1.95],[12.78,1.6],[12.88,1.82],[12.98,1.5],[13.08,1.75],[13.18,1.42],[13.28,1.6],[13.38,1.35],[13.48,1.52],[13.58,1.28],[13.68,1.4],[13.78,1.2],[13.88,1.35],[13.98,1.1],[14.08,1.25],[14.18,1.02],[14.28,1.15],[14.38,0.95],[14.48,1.05],[14.58,0.88],[14.68,0.98],[14.78,0.8],
    [7.45,2.3],[7.5,2.65],[7.55,2.1],[7.62,2.4],[7.68,2.05],[7.75,2.5],[7.82,2.7],[7.88,2.4],[7.95,2.25],[7.58,1.85],[7.65,1.95],[7.5,1.8]];
  const bFill60 = [[7.88,3.25],[7.98,3.3],[8.02,3.15],[8.1,2.95],[8.18,3.2],[8.24,3.0],[8.28,3.35],[8.35,3.1],[8.38,2.9],[8.45,3.45],[8.48,3.05],[8.55,3.35],[8.58,2.95],[8.62,3.25],[8.68,3.5],[8.72,3.1],[8.78,3.4],[8.82,3.0],[8.88,3.3],[8.92,3.6],[8.98,3.25],[9.02,3.5],[9.08,3.45],[9.12,3.7],[9.18,3.4],[9.22,3.55],[9.28,3.3],[9.32,3.85],[9.38,3.5],[9.42,3.7],[9.48,3.4],[9.52,3.6],[9.58,3.45],[9.62,3.75],[9.68,3.6],[9.72,3.9],[9.78,3.55],[9.82,3.8],[9.88,3.45],[9.92,3.75],[9.98,3.65],[10.02,3.85],[10.08,3.45],[10.12,3.6],[10.18,3.75],[10.22,3.35],[10.28,3.6],[10.32,3.2],[10.38,3.55],[10.42,3.35],[10.48,3.6],[10.52,3.2],[10.58,3.45],[10.62,3.05],[10.68,3.35],[10.72,2.95],[10.78,3.2],[10.82,2.7],[10.88,2.95],[10.92,2.6],[10.98,2.85],[11.08,2.55],[11.12,2.75],[11.2,2.4],[11.28,2.55],[11.36,2.3],[11.44,2.5],[11.52,2.25],[11.6,2.4],[11.68,2.15],[11.76,2.35],[11.84,2.1],[11.92,2.2],[12.0,2.05],[12.08,2.1],[12.16,1.95],[12.24,2.02],[12.32,1.9],[12.4,1.95],[12.48,1.82],[12.56,1.85],[12.64,1.7],[12.72,1.75],[12.8,1.62],[12.88,1.65],[12.96,1.55],[13.04,1.6],[13.12,1.45],[13.2,1.5],[13.28,1.4],[13.36,1.45],[13.44,1.35],[13.52,1.4],[13.6,1.3],[13.68,1.35],[13.76,1.25],[13.84,1.3],[13.92,1.2],[14.0,1.25],[14.08,1.15],[14.16,1.2],[14.25,1.1],[14.35,1.15],[14.5,1.05],[14.7,1.1],[14.9,1.0]];

  const panels = [
    { name: '(a)', left: 105, top: 52, width: 812, height: 664,
      xDomain: [10, 18], yDomain: [-4, 1], xTicks: aXTicks, yTicks: aYTicks,
      series: [aStrip20.concat(aStripMore20, aCloud20, aFill20),
               aStrip40.concat(aStripMore40, aCloud40, aFill40),
               aStrip60.concat(aStripMore60, aCloud60, aFill60)],
      legend: 'left', ylabelX: 43, nameX: 25 },
    { name: '(b)', left: 1044, top: 52, width: 814, height: 664,
      xDomain: [6, 16], yDomain: [-4, 6], xTicks: bXTicks, yTicks: bYTicks,
      series: [b20.concat(bFill20), b40.concat(bFill40), b60.concat(bFill60)],
      legend: 'right', ylabelX: 982, nameX: 965 }
  ];

  const svg = d3.select('svg');
  const FS = 25;

  // r_e with italic r and subscript e
  function reText(sel, before, after) {
    if (before) sel.append('tspan').text(before);
    sel.append('tspan').attr('font-style', 'italic').text('r');
    sel.append('tspan').attr('font-style', 'italic').attr('font-size', FS * 0.7).attr('dy', 5).text('e');
    sel.append('tspan').attr('dy', -5).text(after);
  }

  panels.forEach((p, pi) => {
    const x = d3.scaleLinear().domain(p.xDomain).range([p.left, p.left + p.width]);
    const y = d3.scaleLinear().domain(p.yDomain).range([p.top + p.height, p.top]);
    const g = svg.append('g');

    g.append('clipPath').attr('id', 'clip' + pi)
      .append('rect').attr('x', p.left).attr('y', p.top).attr('width', p.width).attr('height', p.height);

    // grid
    g.append('g').selectAll('line').data(p.xTicks).enter().append('line')
      .attr('x1', d => x(d)).attr('x2', d => x(d))
      .attr('y1', p.top).attr('y2', p.top + p.height)
      .attr('stroke', '#e6e6e6').attr('stroke-width', 1.2);
    g.append('g').selectAll('line').data(p.yTicks).enter().append('line')
      .attr('x1', p.left).attr('x2', p.left + p.width)
      .attr('y1', d => y(d)).attr('y2', d => y(d))
      .attr('stroke', '#e6e6e6').attr('stroke-width', 1.2);

    // interleave the three SZA series so no colour is always on top
    const pts = [];
    const n = d3.max(p.series, s => s.length);
    for (let i = 0; i < n; i++) {
      p.series.forEach((s, k) => { if (i < s.length) pts.push({ x: s[i][0], y: s[i][1], k: k }); });
    }
    g.append('g').attr('clip-path', 'url(#clip' + pi + ')')
      .selectAll('circle').data(pts).enter().append('circle')
      .attr('cx', d => x(d.x)).attr('cy', d => y(d.y)).attr('r', 3.9)
      .attr('fill', d => szaColors[d.k])
      .attr('stroke', '#fff').attr('stroke-width', 0.6)
      .attr('opacity', 0.7);

    // zero reference line
    g.append('line')
      .attr('x1', p.left).attr('x2', p.left + p.width)
      .attr('y1', y(0)).attr('y2', y(0))
      .attr('stroke', '#000').attr('stroke-width', 1.8)
      .attr('stroke-dasharray', '7,3').attr('opacity', 0.85);

    // axes
    const xAxis = g.append('g').attr('transform', `translate(0,${p.top + p.height})`)
      .call(d3.axisBottom(x).tickValues(p.xTicks).tickSize(6).tickPadding(10).tickFormat(d3.format('d')));
    const yAxis = g.append('g').attr('transform', `translate(${p.left},0)`)
      .call(d3.axisLeft(y).tickValues(p.yTicks).tickSize(6).tickPadding(9).tickFormat(d3.format('d')));
    [xAxis, yAxis].forEach(a => {
      a.select('.domain').remove();
      a.attr('font-size', FS).attr('font-family', '"DejaVu Sans", sans-serif');
      a.selectAll('line').attr('stroke', '#000').attr('stroke-width', 1.5);
      a.selectAll('text').attr('fill', '#000');
    });

    // frame
    g.append('rect').attr('x', p.left).attr('y', p.top)
      .attr('width', p.width).attr('height', p.height)
      .attr('fill', 'none').attr('stroke', '#000').attr('stroke-width', 1.6);

    // axis labels
    const xl = g.append('text').attr('x', p.left + p.width / 2).attr('y', 785)
      .attr('text-anchor', 'middle').attr('font-size', FS);
    reText(xl, 'True ', ' (μm)');
    const yl = g.append('text')
      .attr('transform', `translate(${p.ylabelX},${p.top + p.height / 2}) rotate(-90)`)
      .attr('text-anchor', 'middle').attr('font-size', FS);
    reText(yl, null, ' Bias (%)');

    // panel letter
    g.append('text').attr('x', p.nameX).attr('y', 38)
      .attr('font-size', FS).attr('font-weight', 'bold').text(p.name);

    // legend
    const lw = 141, lh = 163;
    const lx = p.legend === 'left' ? p.left + 13 : p.left + p.width - 14 - lw;
    const ly = p.top + p.height - 13 - lh;
    const lg = g.append('g').attr('transform', `translate(${lx},${ly})`);
    lg.append('rect').attr('width', lw).attr('height', lh).attr('rx', 4)
      .attr('fill', '#fff').attr('fill-opacity', 0.8)
      .attr('stroke', '#d3d3d3').attr('stroke-width', 1.3);
    lg.append('text').attr('x', 71).attr('y', 30).attr('text-anchor', 'middle')
      .attr('font-size', FS).text('SZA');
    const items = lg.selectAll('g.item').data(szaLabels).enter().append('g')
      .attr('transform', (d, i) => `translate(0,${62 + i * 39.5})`);
    items.append('circle').attr('cx', 37).attr('cy', 0).attr('r', 3)
      .attr('fill', (d, i) => szaColors[i]).attr('opacity', 0.7);
    items.append('text').attr('x', 129).attr('y', 8).attr('text-anchor', 'end')
      .attr('font-size', FS).text(d => d);
  });
</script>
</body>
</html>
